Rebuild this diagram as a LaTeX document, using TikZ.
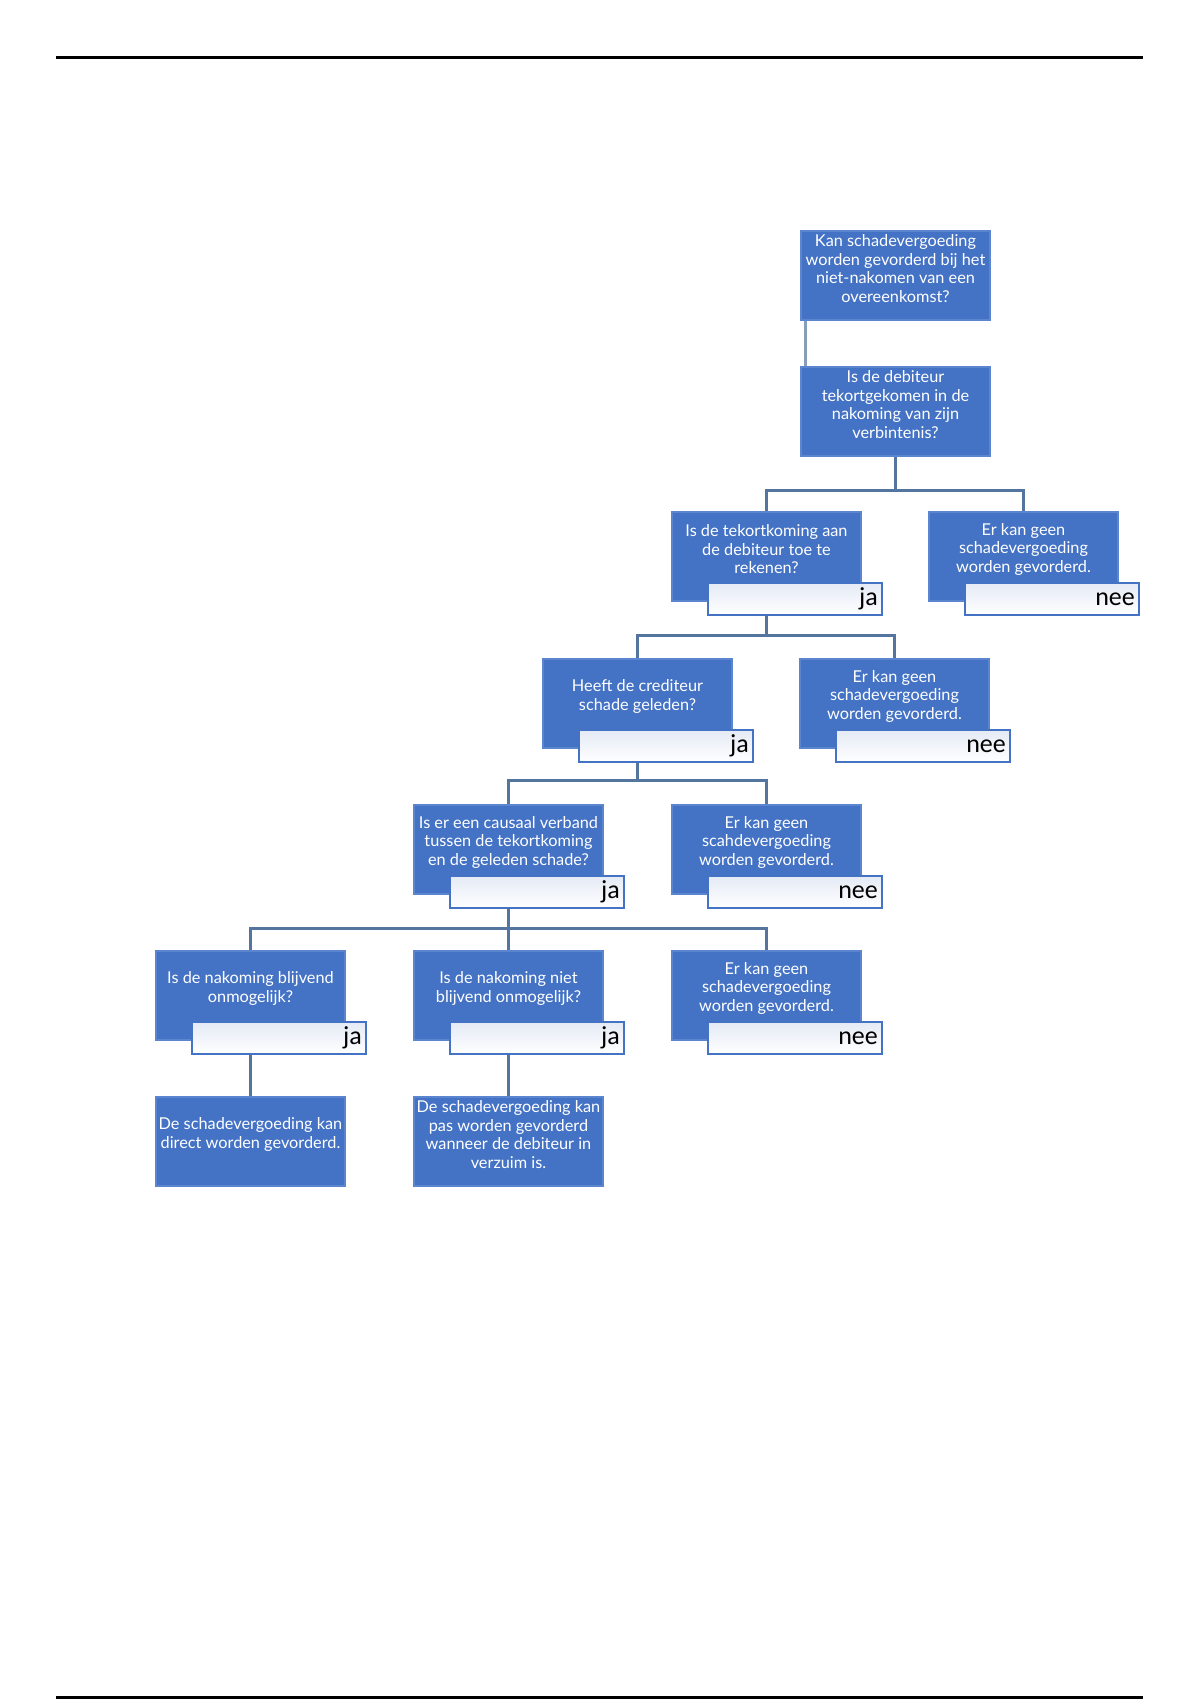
\documentclass[tikz,border=0pt]{standalone}
\usepackage{fontspec}
\setmainfont{Carlito}
\newfontfamily\boxfont{Lato}
\definecolor{boxblue}{HTML}{4472C4}
\definecolor{boxedge}{HTML}{5B86CF}
\definecolor{wirecol}{HTML}{54759E}
\definecolor{lblfill}{HTML}{E4EAF5}
\begin{document}
\begin{tikzpicture}[x=1pt,y=-1pt,
 qbox/.style={rectangle, fill=boxblue, draw=boxedge, line width=1.2pt, minimum width=189pt, minimum height=89pt, inner sep=0pt},
 qtext/.style={text=white, font=\boxfont\fontsize{16.3}{18.5}\selectfont, align=center, inner sep=0pt},
 lbl/.style={rectangle, draw=boxblue, line width=2pt, top color=lblfill, bottom color=white, minimum width=174pt, minimum height=32pt, inner sep=0pt},
 lbltext/.style={font=\fontsize{26}{26}\selectfont, text=black, inner sep=0pt, anchor=east},
 wire/.style={draw=wirecol, line width=3pt},
 rule/.style={draw=black, line width=3pt}]
\useasboundingbox (0,0) rectangle (1200,1700);
\fill[white] (0,0) rectangle (1200,1700);
\draw[rule] (56,57) -- (1143,57);
\draw[rule] (56,1697) -- (1143,1697);

% level 1 & 2
\node[qbox] (q1) at (895.5,275.5) {};
\node[qtext] at ([yshift=-38pt]q1.north) {Kan schadevergoeding\\worden gevorderd bij het\\niet-nakomen van een\\overeenkomst?};
\node[qbox] (q2) at (895.5,411.5) {};
\node[qtext] at ([yshift=-38pt]q2.north) {Is de debiteur\\tekortgekomen in de\\nakoming van zijn\\verbintenis?};

% level 3
\node[qbox] (q3) at (766.5,556.5) {};
\node[qtext] at ([yshift=-38pt]q3.north) {Is de tekortkoming aan\\de debiteur toe te\\rekenen?};
\node[lbl] (q3ja) at (795,599) {};
\node[lbltext] at ([xshift=-5pt]q3ja.east) {ja};
\node[qbox] (n1) at (1023.5,556.5) {};
\node[qtext] at ([yshift=-38pt]n1.north) {Er kan geen\\schadevergoeding\\worden gevorderd.};
\node[lbl] (n1nee) at (1052,599) {};
\node[lbltext] at ([xshift=-5pt]n1nee.east) {nee};

% level 4
\node[qbox] (q4) at (637.5,703.5) {};
\node[qtext] at ([yshift=-38pt]q4.north) {Heeft de crediteur\\schade geleden?};
\node[lbl] (q4ja) at (666,746) {};
\node[lbltext] at ([xshift=-5pt]q4ja.east) {ja};
\node[qbox] (n2) at (894.5,703.5) {};
\node[qtext] at ([yshift=-38pt]n2.north) {Er kan geen\\schadevergoeding\\worden gevorderd.};
\node[lbl] (n2nee) at (923,746) {};
\node[lbltext] at ([xshift=-5pt]n2nee.east) {nee};

% level 5
\node[qbox] (q5) at (508.5,849.5) {};
\node[qtext] at ([yshift=-38pt]q5.north) {Is er een causaal verband\\tussen de tekortkoming\\en de geleden schade?};
\node[lbl] (q5ja) at (537,892) {};
\node[lbltext] at ([xshift=-5pt]q5ja.east) {ja};
\node[qbox] (n3) at (766.5,849.5) {};
\node[qtext] at ([yshift=-38pt]n3.north) {Er kan geen\\scahdevergoeding\\worden gevorderd.};
\node[lbl] (n3nee) at (795,892) {};
\node[lbltext] at ([xshift=-5pt]n3nee.east) {nee};

% level 6
\node[qbox] (qa) at (250.5,995.5) {};
\node[qtext] at ([yshift=-38pt]qa.north) {Is de nakoming blijvend\\onmogelijk?};
\node[lbl] (qaja) at (279,1038) {};
\node[lbltext] at ([xshift=-5pt]qaja.east) {ja};
\node[qbox] (qb) at (508.5,995.5) {};
\node[qtext] at ([yshift=-38pt]qb.north) {Is de nakoming niet\\blijvend onmogelijk?};
\node[lbl] (qbja) at (537,1038) {};
\node[lbltext] at ([xshift=-5pt]qbja.east) {ja};
\node[qbox] (qc) at (766.5,995.5) {};
\node[qtext] at ([yshift=-38pt]qc.north) {Er kan geen\\schadevergoeding\\worden gevorderd.};
\node[lbl] (qcnee) at (795,1038) {};
\node[lbltext] at ([xshift=-5pt]qcnee.east) {nee};

% level 7
\node[qbox] (qd) at (250.5,1141.5) {};
\node[qtext] at ([yshift=-38pt]qd.north) {De schadevergoeding kan\\direct worden gevorderd.};
\node[qbox] (qe) at (508.5,1141.5) {};
\node[qtext] at ([yshift=-38pt]qe.north) {De schadevergoeding kan\\pas worden gevorderd\\wanneer de debiteur in\\verzuim is.};

% connectors
\coordinate (b1) at (895.5,490);
\coordinate (b2) at (766.5,635);
\coordinate (b3) at (637.5,780);
\coordinate (b4) at (508.5,928);
\draw[wire, draw=wirecol!70] ([xshift=5pt]q1.south west) -- ([xshift=5pt]q2.north west);
\draw[wire] (q2.south) -- (b1);
\draw[wire] (q3.north) |- (b1) -| (n1.north);
\draw[wire] (q3ja.south -| q3.south) -- (b2);
\draw[wire] (q4.north) |- (b2) -| (n2.north);
\draw[wire] (q4ja.south -| q4.south) -- (b3);
\draw[wire] (q5.north) |- (b3) -| (n3.north);
\draw[wire] (q5ja.south -| q5.south) -- (b4);
\draw[wire] (qa.north) |- (b4) -| (qc.north);
\draw[wire] (b4) -- (qb.north);
\draw[wire] (qaja.south -| qa.south) -- (qd.north);
\draw[wire] (qbja.south -| qb.south) -- (qe.north);
\end{tikzpicture}
\end{document}
